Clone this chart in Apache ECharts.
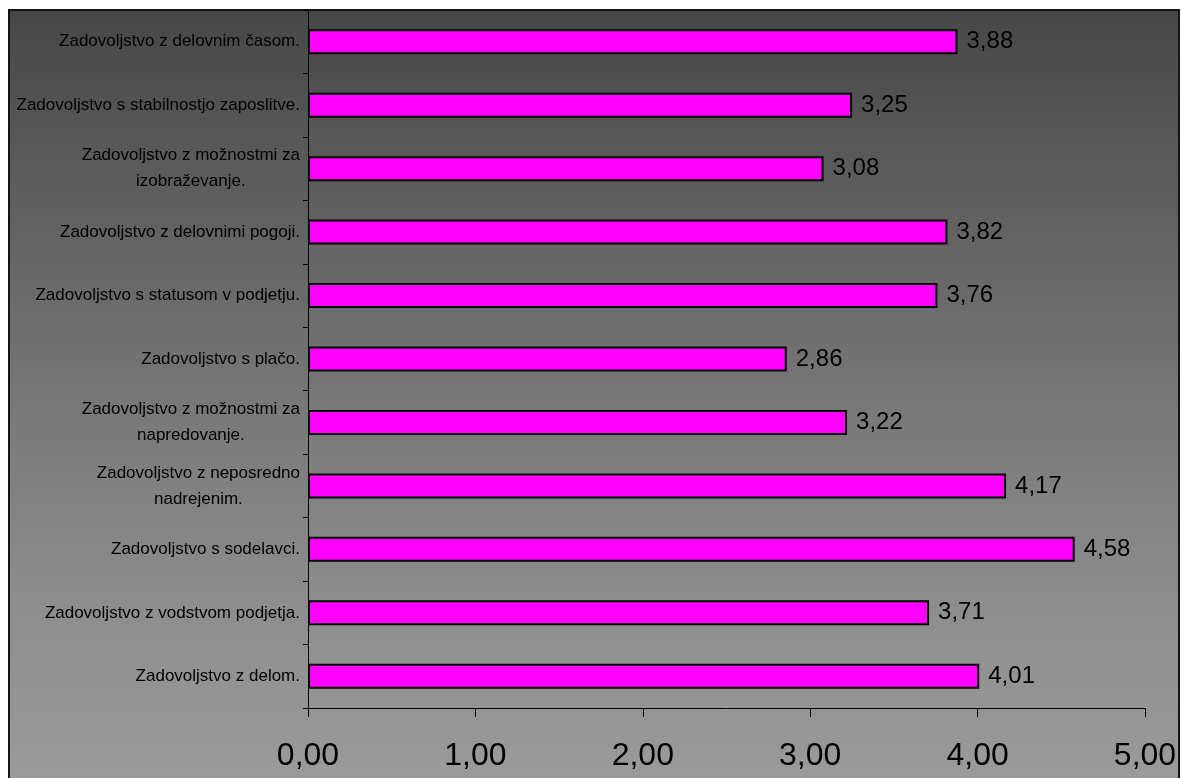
<!DOCTYPE html>
<html>
<head>
<meta charset="utf-8">
<script src="https://cdn.jsdelivr.net/npm/echarts@6/dist/echarts.min.js"></script>
<style>
  html, body { margin: 0; padding: 0; background: #ffffff; }
  #chart { width: 1181px; height: 778px; }
</style>
</head>
<body>
<div id="chart"></div>
<script>
// Category names, top to bottom (line breaks as shown on the axis)
const categories = [
  'Zadovoljstvo z delovnim časom.',
  'Zadovoljstvo s stabilnostjo zaposlitve.',
  'Zadovoljstvo z možnostmi za\nizobraževanje.',
  'Zadovoljstvo z delovnimi pogoji.',
  'Zadovoljstvo s statusom v podjetju.',
  'Zadovoljstvo s plačo.',
  'Zadovoljstvo z možnostmi za\nnapredovanje.',
  'Zadovoljstvo z neposredno\nnadrejenim.',
  'Zadovoljstvo s sodelavci.',
  'Zadovoljstvo z vodstvom podjetja.',
  'Zadovoljstvo z delom.'
];

// Average satisfaction score per category
const scores = [3.88, 3.25, 3.08, 3.82, 3.76, 2.86, 3.22, 4.17, 4.58, 3.71, 4.01];

// Value axis range and step
const axisMin = 0;
const axisMax = 5;
const axisStep = 1;

const fmt = v => Number(v).toFixed(2).replace('.', ',');
const FONT = '"Liberation Sans", Arial, sans-serif';

const chart = echarts.init(document.getElementById('chart'), null, { renderer: 'canvas' });

chart.setOption({
  backgroundColor: '#ffffff',
  animation: false,
  textStyle: { fontFamily: FONT },
  graphic: [{
    type: 'rect',
    z: -10,
    silent: true,
    shape: { x: 9, y: 10, width: 1170, height: 790 },
    style: {
      fill: {
        type: 'linear', x: 0, y: 0, x2: 0, y2: 1,
        colorStops: [
          { offset: 0, color: '#474747' },
          { offset: 0.5, color: '#787878' },
          { offset: 0.75, color: '#8d8d8d' },
          { offset: 1, color: '#9c9c9c' }
        ]
      },
      stroke: '#151515',
      lineWidth: 2
    }
  }],
  grid: { left: 308, right: 36, top: 10, bottom: 70, containLabel: false },
  xAxis: {
    type: 'value',
    min: axisMin,
    max: axisMax,
    interval: axisStep,
    splitLine: { show: false },
    axisLine: { show: true, lineStyle: { color: '#000000', width: 1 } },
    axisTick: { show: true, length: 9, lineStyle: { color: '#000000', width: 1 } },
    axisLabel: {
      formatter: fmt,
      fontSize: 32,
      color: '#000000',
      margin: 32,
      fontFamily: FONT
    }
  },
  yAxis: {
    type: 'category',
    data: categories,
    inverse: true,
    axisLine: { show: true, lineStyle: { color: '#000000', width: 1 } },
    axisTick: { show: true, length: 5, lineStyle: { color: '#000000', width: 1 } },
    axisLabel: {
      margin: 8,
      color: '#000000',
      fontSize: 17,
      lineHeight: 26,
      fontFamily: FONT,
      formatter: v => v.split('\n').map(l => '{c|' + l + '}').join('\n'),
      rich: {
        c: {
          align: 'center',
          fontSize: 17,
          lineHeight: 26,
          color: '#000000',
          fontFamily: FONT
        }
      }
    }
  },
  series: [{
    type: 'bar',
    data: scores,
    barWidth: 25,
    itemStyle: { color: '#ff00ff', borderColor: '#000000', borderWidth: 2 },
    label: {
      show: true,
      position: 'right',
      distance: 9,
      formatter: p => fmt(p.value),
      fontSize: 24,
      color: '#000000',
      fontFamily: FONT
    }
  }]
});
</script>
</body>
</html>
